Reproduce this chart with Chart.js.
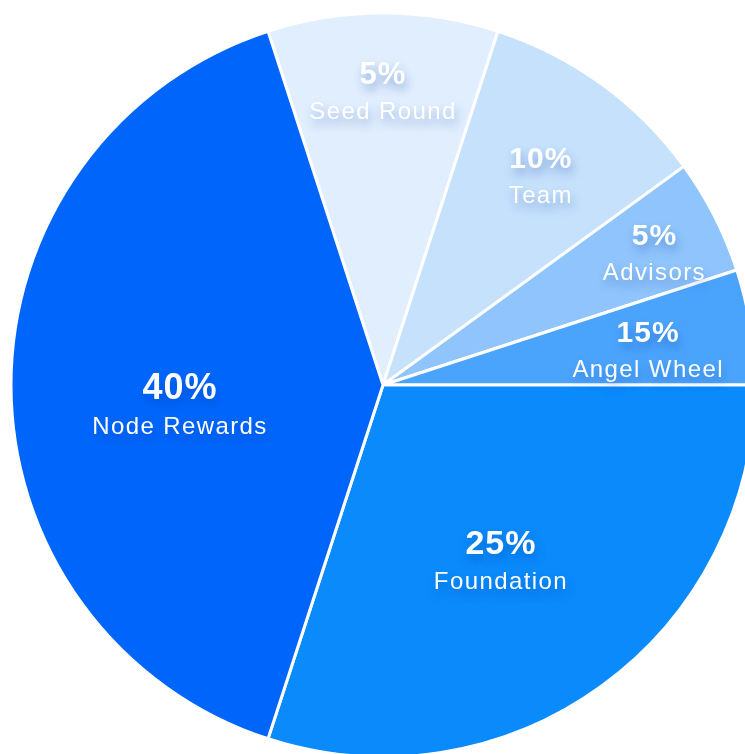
<!DOCTYPE html>
<html>
<head>
<meta charset="utf-8">
<script src="https://cdn.jsdelivr.net/npm/chart.js@4.4.1/dist/chart.umd.min.js"></script>
<style>
  html, body { margin: 0; padding: 0; background: #fff; }
  #wrap { width: 745px; height: 754px; overflow: hidden; position: relative; }
  #pie { position: absolute; left: 0; top: 0; }
</style>
</head>
<body>
<div id="wrap"><canvas id="pie" width="766" height="770"></canvas></div>
<script>
// ================= DATA =================
const names = ["Seed Round", "Team", "Advisors", "Angel Wheel", "Foundation", "Node Rewards"];
const shares = [10, 10, 5, 5, 30, 40];              // slice sizes as drawn
const pctLabels = ["5%", "10%", "5%", "15%", "25%", "40%"]; // text printed on slices
const colors = ["#e0eefd", "#c6e1fc", "#8fc5fc", "#4ba4fc", "#0a8afb", "#0066fb"];

// label placement: [distance / radius, angle shift in degrees], pct font size
const labelPlace = [[0.81, 0], [0.722, 0], [0.821, -0.3], [0.722, -0.2], [0.554, 1.1], [0.547, -3.9]];
const pctSize = [31, 30, 30, 30, 34, 36];

// ================= LABEL PLUGIN =================
const sliceLabels = {
  id: "sliceLabels",
  afterDatasetsDraw(chart) {
    const ctx = chart.ctx;
    const arcs = chart.getDatasetMeta(0).data;
    arcs.forEach((arc, i) => {
      const p = arc.getProps(["x", "y", "startAngle", "endAngle", "outerRadius"], true);
      const mid = (p.startAngle + p.endAngle) / 2 + labelPlace[i][1] * Math.PI / 180;
      const d = p.outerRadius * labelPlace[i][0];
      const x = p.x + Math.cos(mid) * d;
      const y = p.y + Math.sin(mid) * d;

      ctx.save();
      ctx.fillStyle = "#ffffff";
      ctx.textAlign = "center";
      ctx.textBaseline = "alphabetic";
      ctx.shadowColor = "rgba(0, 60, 160, 0.35)";
      ctx.shadowBlur = 10;
      ctx.shadowOffsetX = 2;
      ctx.shadowOffsetY = 6;

      ctx.letterSpacing = "1px";
      ctx.font = "bold " + pctSize[i] + "px 'Liberation Sans', Arial, sans-serif";
      ctx.fillText(pctLabels[i], x, y);

      ctx.letterSpacing = "1.4px";
      ctx.font = "24px 'Liberation Sans', Arial, sans-serif";
      ctx.fillText(names[i], x, y + 35);
      ctx.restore();
    });
  }
};

// ================= CHART =================
new Chart(document.getElementById("pie"), {
  type: "pie",
  data: {
    labels: names,
    datasets: [{
      data: shares,
      backgroundColor: colors,
      borderColor: "#ffffff",
      borderWidth: 3,
      hoverOffset: 0
    }]
  },
  options: {
    responsive: false,
    animation: false,
    rotation: -18,
    radius: 372,
    layout: { padding: 0 },
    plugins: {
      legend: { display: false },
      tooltip: { enabled: false }
    }
  },
  plugins: [sliceLabels]
});
</script>
</body>
</html>
